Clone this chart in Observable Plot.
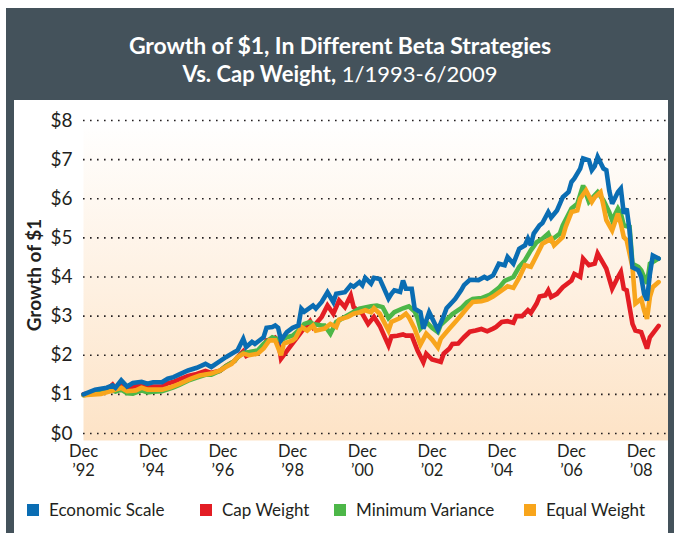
<!DOCTYPE html>
<html><head><meta charset="utf-8">
<script src="https://cdn.jsdelivr.net/npm/d3@7"></script>
<script src="https://cdn.jsdelivr.net/npm/@observablehq/plot@0.6"></script>
<style>
html,body{margin:0;padding:0;background:#fff;}
body{width:674px;height:533px;position:relative;overflow:hidden;font-family:Lato,"Open Sans",sans-serif;color:#231f20;}
#header{position:absolute;left:6px;top:8px;width:668px;height:92px;background:#44525b;color:#fff;text-align:center;}
#header .l1{position:absolute;left:0;right:0;top:24px;font-size:23px;font-weight:bold;line-height:26px;letter-spacing:-0.1px;}
#header .l2{position:absolute;left:0;right:0;top:53px;font-size:22px;line-height:26px;}
#header .l2 b{font-weight:bold;}
.bar{position:absolute;top:8px;height:525px;background:#44525b;z-index:5;}
#chart{position:absolute;left:0;top:100px;}
#ylabel{position:absolute;left:33px;top:275px;transform:translate(-50%,-50%) rotate(-90deg);font-weight:bold;font-size:19px;white-space:nowrap;}
.leg{position:absolute;top:501px;font-size:17px;line-height:18px;display:flex;align-items:center;white-space:nowrap;}
.leg i{display:inline-block;width:12px;height:12px;margin-right:10px;}
</style>
</head><body>
<div id="header"><div class="l1">Growth of $1, In Different Beta Strategies</div><div class="l2"><b>Vs. Cap Weight,</b> 1/1993-6/2009</div></div>
<div class="bar" style="left:6px;width:8px;"></div>
<div class="bar" style="left:668px;width:6px;"></div>
<div id="chart"></div>
<div id="ylabel">Growth of $1</div>
<div id="legend"></div>
<script>
// months since Dec 1992, value of $1
const economicScale = [[0,1.0],[4,1.12],[8,1.17],[10,1.23],[11,1.17],[13,1.36],[15,1.2],[17,1.29],[20,1.32],[22,1.27],[24,1.31],[27,1.31],[29,1.4],[31,1.44],[33,1.51],[36,1.61],[39,1.68],[42,1.78],[44,1.7],[47,1.85],[49,1.95],[52,2.08],[53,2.12],[55,2.42],[56,2.21],[58,2.34],[59,2.29],[62,2.46],[63,2.7],[65,2.72],[66,2.76],[67,2.7],[68,2.38],[70,2.59],[72,2.7],[74,2.76],[75,3.19],[76,3.11],[79,3.27],[80,3.19],[82,3.36],[84,3.61],[86,3.36],[87,3.57],[90,3.61],[92,3.79],[93,3.75],[95,3.87],[96,3.79],[97,3.98],[99,3.83],[100,3.98],[102,3.95],[105,3.45],[106,3.57],[107,3.66],[109,3.62],[110,3.91],[111,3.7],[113,3.7],[114,3.19],[116,3.1],[117,2.68],[118,2.89],[119,3.1],[121,2.8],[122,2.65],[124,3.0],[125,3.2],[127,3.36],[128,3.44],[130,3.66],[131,3.79],[133,3.93],[136,3.92],[138,4.0],[139,3.96],[141,4.04],[143,4.34],[145,4.3],[146,4.51],[148,4.34],[150,4.72],[152,4.81],[153,4.98],[154,4.81],[155,5.11],[157,5.32],[158,5.38],[160,5.66],[161,5.52],[163,5.7],[165,6.04],[167,6.17],[168,6.43],[169,6.52],[171,6.77],[172,7.03],[174,6.98],[175,6.73],[176,6.83],[177,7.07],[179,6.77],[180,6.73],[181,6.21],[182,5.87],[184,6.17],[185,6.26],[186,5.62],[187,5.75],[188,5.19],[189,4.25],[191,4.17],[192,4.0],[193,3.57],[194,3.4],[195,4.08],[196,4.55],[198,4.47]];
const capWeight = [[0,1.0],[4,1.06],[8,1.12],[10,1.25],[11,1.15],[13,1.27],[15,1.12],[17,1.2],[20,1.22],[22,1.16],[24,1.2],[27,1.2],[29,1.28],[31,1.32],[33,1.38],[36,1.47],[39,1.52],[42,1.6],[44,1.55],[47,1.6],[49,1.72],[52,1.85],[53,1.95],[55,2.1],[56,1.98],[58,2.06],[59,2.04],[62,2.2],[63,2.38],[65,2.4],[66,2.45],[67,2.38],[68,1.91],[71,2.21],[75,2.6],[78,2.87],[79,2.72],[82,2.98],[84,3.27],[86,3.06],[88,3.4],[90,3.23],[92,3.53],[93,3.23],[96,3.06],[98,2.8],[100,2.98],[102,2.75],[105,2.25],[106,2.48],[108,2.5],[110,2.53],[111,2.5],[113,2.5],[115,2.12],[117,1.82],[118,2.04],[120,1.89],[122,1.85],[123,1.83],[124,2.04],[126,2.17],[127,2.29],[129,2.3],[131,2.46],[133,2.6],[135,2.63],[137,2.67],[139,2.61],[141,2.68],[142,2.72],[144,2.85],[146,2.87],[148,2.83],[149,3.0],[151,3.0],[153,3.15],[154,3.08],[156,3.32],[157,3.5],[159,3.53],[160,3.66],[161,3.49],[163,3.57],[165,3.74],[168,3.91],[169,4.08],[171,4.0],[172,4.47],[174,4.3],[176,4.34],[177,4.6],[179,4.34],[180,4.21],[182,3.7],[184,4.0],[185,4.13],[186,3.7],[187,3.66],[189,2.8],[190,2.63],[192,2.59],[194,2.17],[195,2.46],[198,2.75]];
const minimumVariance = [[0,0.98],[4,1.03],[8,1.08],[10,1.1],[11,1.07],[13,1.12],[15,1.03],[17,1.02],[20,1.1],[22,1.05],[24,1.07],[27,1.08],[29,1.13],[31,1.18],[33,1.24],[36,1.35],[39,1.43],[42,1.5],[44,1.5],[47,1.6],[49,1.72],[52,1.85],[53,1.94],[55,2.06],[57,2.08],[60,2.12],[62,2.29],[65,2.46],[68,2.38],[70,2.46],[72,2.5],[74,2.63],[76,2.8],[78,2.85],[79,2.8],[82,2.76],[83,2.76],[85,2.55],[87,2.85],[91,3.02],[94,3.15],[95,3.19],[99,3.25],[101,3.27],[103,3.23],[105,2.95],[107,3.1],[110,3.2],[112,3.25],[114,3.12],[115,2.95],[116,2.68],[118,2.85],[120,2.7],[122,2.59],[123,2.78],[126,2.98],[127,3.05],[130,3.2],[132,3.35],[134,3.44],[137,3.46],[140,3.55],[143,3.72],[145,3.9],[148,4.0],[150,4.26],[152,4.43],[154,4.68],[156,4.89],[158,4.98],[160,5.11],[161,4.94],[164,5.11],[165,5.32],[168,5.75],[170,5.87],[172,6.34],[174,5.92],[176,6.09],[177,6.17],[179,5.96],[181,5.66],[182,5.45],[184,5.75],[185,5.62],[186,5.32],[188,5.28],[189,4.34],[191,4.26],[192,4.17],[194,3.83],[195,4.34],[198,4.47]];
const equalWeight = [[0,0.98],[6,1.01],[10,1.1],[13,1.17],[15,1.08],[18,1.1],[20,1.17],[22,1.12],[27,1.12],[30,1.18],[33,1.27],[37,1.4],[40,1.48],[44,1.53],[47,1.61],[49,1.7],[51,1.78],[53,1.95],[55,2.04],[57,2.0],[60,2.04],[62,2.17],[64,2.38],[66,2.38],[68,2.0],[69,2.3],[72,2.38],[73,2.44],[75,2.72],[77,2.63],[79,2.76],[80,2.63],[83,2.68],[85,2.8],[87,2.72],[88,2.91],[91,2.98],[93,3.06],[95,3.1],[97,3.15],[99,3.1],[100,3.2],[102,3.06],[105,2.63],[106,2.85],[109,2.95],[111,3.06],[112,2.97],[114,2.68],[116,2.27],[118,2.55],[120,2.4],[122,2.2],[123,2.42],[126,2.68],[128,2.85],[130,3.02],[132,3.2],[134,3.36],[137,3.38],[139,3.42],[141,3.5],[144,3.66],[146,3.76],[148,3.72],[150,3.98],[152,4.3],[154,4.26],[156,4.55],[158,4.85],[161,4.98],[162,4.81],[165,5.02],[166,5.28],[168,5.66],[170,5.7],[171,6.0],[173,6.21],[175,5.92],[176,6.04],[178,6.17],[179,5.83],[180,5.45],[182,5.19],[184,5.62],[185,5.36],[186,5.02],[187,4.94],[189,4.25],[190,3.32],[192,3.44],[193,3.15],[194,2.93],[195,3.49],[196,3.74],[198,3.87]];

const seriesNames = ["Economic Scale","Cap Weight","Minimum Variance","Equal Weight"];
const seriesColors = ["#0a6db3","#e31d24","#4db748","#f8a51c"];
const seriesData = [economicScale, capWeight, minimumVariance, equalWeight];
const drawOrder = [1, 2, 3, 0];

const yTicks = [0,1,2,3,4,5,6,7,8];
const xTicks = [0,24,48,72,96,120,144,168,192];
const xTickMonths = ["Dec","Dec","Dec","Dec","Dec","Dec","Dec","Dec","Dec"];
const xTickYears = ["\u201992","\u201994","\u201996","\u201998","\u201900","\u201902","\u201904","\u201906","\u201908"];

const rows = [];
drawOrder.forEach(k => seriesData[k].forEach(([m, v]) => rows.push({m, v, s: seriesNames[k], k})));

const gradient = () => {
  const defs = d3.create("svg:defs");
  const g = defs.append("linearGradient").attr("id", "bgGrad").attr("x1", 0).attr("x2", 0).attr("y1", 0).attr("y2", 1);
  g.append("stop").attr("offset", "0%").attr("stop-color", "#ffffff");
  g.append("stop").attr("offset", "100%").attr("stop-color", "#fde3c6");
  return defs.node();
};

const chart = Plot.plot({
  width: 674, height: 433,
  marginLeft: 83, marginRight: 6, marginTop: 20, marginBottom: 93,
  style: {background: "transparent", fontFamily: "Lato, 'Open Sans', sans-serif", fontSize: "17px", color: "#231f20", overflow: "visible"},
  x: {domain: [0, 201.4], axis: null, label: null},
  y: {domain: [-0.18, 8], axis: null, label: null},
  color: {domain: seriesNames, range: seriesColors},
  marks: [
    gradient,
    Plot.frame({fill: "url(#bgGrad)", stroke: null}),
    Plot.gridY(yTicks, {stroke: "#231f20", strokeOpacity: 1, strokeWidth: 1.6, strokeDasharray: "1.6,5.4"}),
    ...drawOrder.map(k => Plot.line(rows.filter(r => r.k === k), {x: "m", y: "v", stroke: "s", strokeWidth: 4.6, strokeLinejoin: "miter", strokeMiterlimit: 3})),
    Plot.axisY(yTicks, {label: null, tickSize: 0, tickPadding: 11, tickFormat: d => "$" + d, fontSize: 19}),
    Plot.axisX(xTicks, {label: null, tickSize: 0, tickPadding: 5, tickFormat: d => xTickMonths[xTicks.indexOf(d)], fontSize: 16.5}),
    Plot.axisX(xTicks, {label: null, tickSize: 0, tickPadding: 24, tickFormat: d => xTickYears[xTicks.indexOf(d)], fontSize: 16.5})
  ]
});
document.getElementById("chart").appendChild(chart);

const legendLefts = [27, 200, 334, 524];
const legend = document.getElementById("legend");
seriesNames.forEach((name, i) => {
  const d = document.createElement("div");
  d.className = "leg";
  d.style.left = legendLefts[i] + "px";
  d.innerHTML = `<i style="background:${seriesColors[i]}"></i><span>${name}</span>`;
  legend.appendChild(d);
});
</script>
</body></html>
